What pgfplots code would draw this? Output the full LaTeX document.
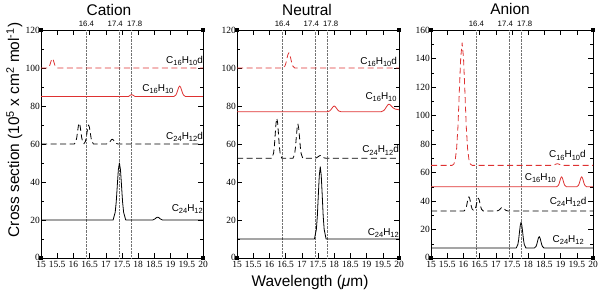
\documentclass[border=0pt]{standalone}
\usepackage{fontspec}
\setmainfont{Liberation Serif}
\setsansfont{Liberation Sans}
\usepackage{pgfplots}
\pgfplotsset{compat=1.18}
\definecolor{gred}{RGB}{222,50,50}
\newcommand\sub[1]{\raisebox{-0.4ex}{\fontsize{7.5}{8}\selectfont #1}}
\newcommand\zero{\raisebox{2bp}{0}}
\pgfplotsset{
  panel/.style={
    scale only axis, width=162bp, height=228bp,
    xmin=15, xmax=20, ymin=0,
    xtick={15,15.5,16,16.5,17,17.5,18,18.5,19,19.5,20},
    xticklabels={15,15.5,16,16.5,17,17.5,18,18.5,19,19.5,20},
    minor y tick num=1,
    tick align=inside,
    major tick length=5bp, minor tick length=3bp,
    tick style={black, line width=0.5bp},
    axis line style={line width=0.7bp},
    ticklabel style={font=\rmfamily\fontsize{9.5}{10}\selectfont},
    /pgf/number format/assume math mode=true,
    xticklabel style={inner sep=0.5bp, yshift=-3bp},
    yticklabel style={inner sep=0.5bp, xshift=-0.5bp},
    extra x ticks={16.4,17.4,17.8},
    extra x tick labels={},
    extra x tick style={grid=major, major tick length=0pt},
    major grid style={densely dotted, black!55, line width=0.45bp},
    clip mode=individual,
    every axis plot/.append style={line width=0.8bp, line join=round},
  },
  dsh/.style={dash pattern=on 6bp off 3.5bp},
}
\tikzset{
  lbl/.style={anchor=south east, inner sep=0pt, font=\sffamily\fontsize{10}{11}\selectfont},
  toplbl/.style={anchor=base, inner sep=0pt, font=\sffamily\fontsize{7.8}{9}\selectfont},
}
\newcommand\corners{%
  \fill (rel axis cs:0,0) ++(-1.6bp,-1.6bp) rectangle ++(3.2bp,3.2bp);
  \fill (rel axis cs:0,1) ++(-1.6bp,-1.6bp) rectangle ++(3.2bp,3.2bp);
  \fill (rel axis cs:1,0) ++(-1.6bp,-1.6bp) rectangle ++(3.2bp,3.2bp);
  \fill (rel axis cs:1,1) ++(-1.6bp,-1.6bp) rectangle ++(3.2bp,3.2bp);
  \node[toplbl] at (axis cs:16.4,\pgfkeysvalueof{/pgfplots/ymax}) [yshift=3.5bp] {16.4};
  \node[toplbl] at (axis cs:17.4,\pgfkeysvalueof{/pgfplots/ymax}) [yshift=3.5bp, xshift=-3.5bp] {17.4};
  \node[toplbl] at (axis cs:17.8,\pgfkeysvalueof{/pgfplots/ymax}) [yshift=3.5bp, xshift=3bp] {17.8};
}
\begin{document}
\begin{tikzpicture}
\useasboundingbox (0,-290bp) rectangle (600bp,0);
% ---------------- Cation ----------------
\begin{axis}[panel, at={(41bp,-258bp)}, anchor=south west, ymax=120,
  ytick={0,20,40,60,80,100,120}, yticklabels={\zero,20,40,60,80,100,120}]
\addplot[black] coordinates {(15,20) (17.225,20) (17.29,24.05) (17.3225,29.6) (17.355,38.2) (17.3875,46.5) (17.42,50) (17.4525,46.5) (17.485,38.2) (17.5175,29.6) (17.55,24.05) (17.615,20) (18.45,20) (18.52,20.6) (18.56,21.2) (18.6,21.5) (18.64,21.2) (18.68,20.6) (18.75,20) (20,20)};
\addplot[black,dsh] coordinates {(15,60) (16.03,60) (16.08,61.5) (16.105,63.5) (16.13,66.7) (16.155,69.7) (16.18,71) (16.205,69.7) (16.23,66.7) (16.255,63.5) (16.28,61.5) (16.325,60.1) (16.37,61.35) (16.395,63.2) (16.42,66.1) (16.445,68.8) (16.47,70) (16.495,68.8) (16.52,66.1) (16.545,63.2) (16.57,61.35) (16.62,60) (17.02,60) (17.08,60.34) (17.11,60.8) (17.14,61.5) (17.17,62.2) (17.2,62.5) (17.23,62.2) (17.26,61.5) (17.29,60.8) (17.32,60.34) (17.38,60) (20,60)};
\addplot[gred] coordinates {(15,85) (17.7,85) (17.75,85.6) (17.8,86) (17.85,85.6) (17.9,85) (19.1,85) (19.16,85.74) (19.19,86.76) (19.22,88.36) (19.25,89.84) (19.28,90.5) (19.31,89.84) (19.34,88.36) (19.37,86.76) (19.4,85.74) (19.46,85) (20,85)};
\addplot[gred,dsh] coordinates {(15,100) (15.2,100) (15.25,100.7) (15.275,101.6) (15.3,103.05) (15.325,104.4) (15.35,105) (15.375,104.4) (15.4,103.05) (15.425,101.6) (15.45,100.7) (15.5,100) (20,100)};
\node[lbl] at (axis cs:20,100) [yshift=2.5bp] {C\sub{16}H\sub{10}d};
\node[lbl] at (axis cs:19.09,85) [yshift=3bp] {C\sub{16}H\sub{10}};
\node[lbl] at (axis cs:20,60) [yshift=2.5bp] {C\sub{24}H\sub{12}d};
\node[lbl] at (axis cs:20,20) [yshift=6.5bp] {C\sub{24}H\sub{12}};
\corners
\end{axis}
% ---------------- Neutral ----------------
\begin{axis}[panel, at={(237bp,-258bp)}, anchor=south west, ymax=120,
  ytick={0,20,40,60,80,100,120}, yticklabels={\zero,20,40,60,80,100,120}]
\addplot[black] coordinates {(15,10) (17.39,10) (17.45,15.13) (17.48,22.16) (17.51,33.18) (17.54,43.44) (17.57,48) (17.6,43.44) (17.63,33.18) (17.66,22.16) (17.69,15.13) (17.75,10) (20,10)};
\addplot[black,dsh] coordinates {(15,52.5) (16.08,52.5) (16.13,55.3) (16.155,59.2) (16.18,65.3) (16.205,71) (16.23,73.5) (16.255,71) (16.28,65.3) (16.305,59.2) (16.33,55.3) (16.38,52.5) (16.73,52.5) (16.78,54.9) (16.805,58.3) (16.83,63.5) (16.855,68.3) (16.88,70.5) (16.905,68.3) (16.93,63.5) (16.955,58.3) (16.98,54.9) (17.03,52.5) (17.39,52.5) (17.45,52.7) (17.51,53.4) (17.57,54) (17.63,53.4) (17.69,52.7) (17.75,52.5) (20,52.5)};
\addplot[gred] coordinates {(15,77) (17.79,77) (17.86,77.4) (17.895,78) (17.93,78.8) (17.965,79.6) (18,80) (18.035,79.6) (18.07,78.8) (18.105,78) (18.14,77.4) (18.21,77) (19.45,77) (19.53,77.6) (19.57,78.4) (19.61,79.5) (19.65,80.5) (19.69,81) (19.73,80.6) (19.77,79.8) (19.82,79) (19.88,78.4) (20,78)};
\addplot[gred,dsh] coordinates {(15,100) (16.42,100) (16.48,101.1) (16.51,102.6) (16.54,104.9) (16.57,107) (16.6,108) (16.63,107) (16.66,104.9) (16.69,102.6) (16.72,101.1) (16.78,100) (20,100)};
\node[lbl] at (axis cs:19.94,100) [yshift=1.5bp] {C\sub{16}H\sub{10}d};
\node[lbl] at (axis cs:19.93,77) [yshift=10bp] {C\sub{16}H\sub{10}};
\node[lbl] at (axis cs:20,52.5) [yshift=3bp] {C\sub{24}H\sub{12}d};
\node[lbl] at (axis cs:20,10) [yshift=1.5bp] {C\sub{24}H\sub{12}};
\corners
\end{axis}
% ---------------- Anion ----------------
\begin{axis}[panel, at={(431bp,-258bp)}, anchor=south west, ymax=160,
  ytick={0,20,40,60,80,100,120,140,160}, yticklabels={\zero,20,40,60,80,100,120,140,160}]
\addplot[black] coordinates {(15,7) (17.63,7) (17.68,9.43) (17.705,12.76) (17.73,17.98) (17.755,22.84) (17.78,25) (17.805,22.84) (17.83,17.98) (17.855,12.76) (17.88,9.43) (17.93,7) (18.19,7) (18.24,8.08) (18.265,9.56) (18.29,11.88) (18.315,14.04) (18.34,15) (18.365,14.04) (18.39,11.88) (18.415,9.56) (18.44,8.08) (18.49,7) (20,7)};
\addplot[black,dsh] coordinates {(15,33) (16.02,33) (16.07,34.35) (16.095,36.2) (16.12,39.1) (16.145,41.8) (16.17,43) (16.195,41.8) (16.22,39.1) (16.245,36.2) (16.27,34.35) (16.315,33.3) (16.36,34.2) (16.385,35.9) (16.41,38.5) (16.435,40.9) (16.46,42) (16.485,40.9) (16.51,38.5) (16.535,35.9) (16.56,34.2) (16.61,33) (17.02,33) (17.08,33.34) (17.11,33.8) (17.14,34.5) (17.17,35.2) (17.2,35.5) (17.23,35.2) (17.26,34.5) (17.29,33.8) (17.32,33.34) (17.38,33) (20,33)};
\addplot[gred] coordinates {(15,50) (18.88,50) (18.93,50.95) (18.955,52.24) (18.98,54.27) (19.005,56.16) (19.03,57) (19.055,56.16) (19.08,54.27) (19.105,52.24) (19.13,50.95) (19.18,50) (19.5,50) (19.55,50.95) (19.575,52.24) (19.6,54.27) (19.625,56.16) (19.65,57) (19.675,56.16) (19.7,54.27) (19.725,52.24) (19.75,50.95) (19.8,50) (20,50)};
\addplot[gred,dsh] coordinates {(15,65) (15.65,65) (15.705,65.9) (15.7475,68.8) (15.79,76.6) (15.8325,92.5) (15.875,117.5) (15.9175,140.7) (15.96,151) (16.0025,140.7) (16.045,117.5) (16.0875,92.5) (16.13,76.6) (16.1725,68.8) (16.215,65.9) (16.27,65) (18.75,65) (18.85,65.8) (18.9,66.2) (18.95,65.8) (19.05,65) (20,65)};
\node[lbl] at (axis cs:19.78,65) [yshift=5bp] {C\sub{16}H\sub{10}d};
\node[lbl] at (axis cs:18.86,50) [yshift=4bp] {C\sub{16}H\sub{10}};
\node[lbl] at (axis cs:19.8,33) [yshift=4.5bp] {C\sub{24}H\sub{12}d};
\node[lbl] at (axis cs:19.72,7) [yshift=3bp] {C\sub{24}H\sub{12}};
\corners
\end{axis}
% titles and labels
\node[anchor=base, inner sep=0pt, font=\sffamily\fontsize{15.5}{18}\selectfont] at (109bp,-15bp) {Cation};
\node[anchor=base, inner sep=0pt, font=\sffamily\fontsize{15.5}{18}\selectfont] at (307bp,-15bp) {Neutral};
\node[anchor=base, inner sep=0pt, font=\sffamily\fontsize{15.5}{18}\selectfont] at (510bp,-14bp) {Anion};
\node[anchor=base, inner sep=0pt, font=\sffamily\fontsize{15.5}{18}\selectfont] at (310bp,-286.5bp) {Wavelength (\textit{μ}m)};
\node[anchor=base, rotate=90, inner sep=0pt, font=\sffamily\fontsize{15.5}{18}\selectfont] at (19bp,-130bp) {Cross section (10\textsuperscript{5} x cm\textsuperscript{2} mol\textsuperscript{-1})};
\end{tikzpicture}
\end{document}
